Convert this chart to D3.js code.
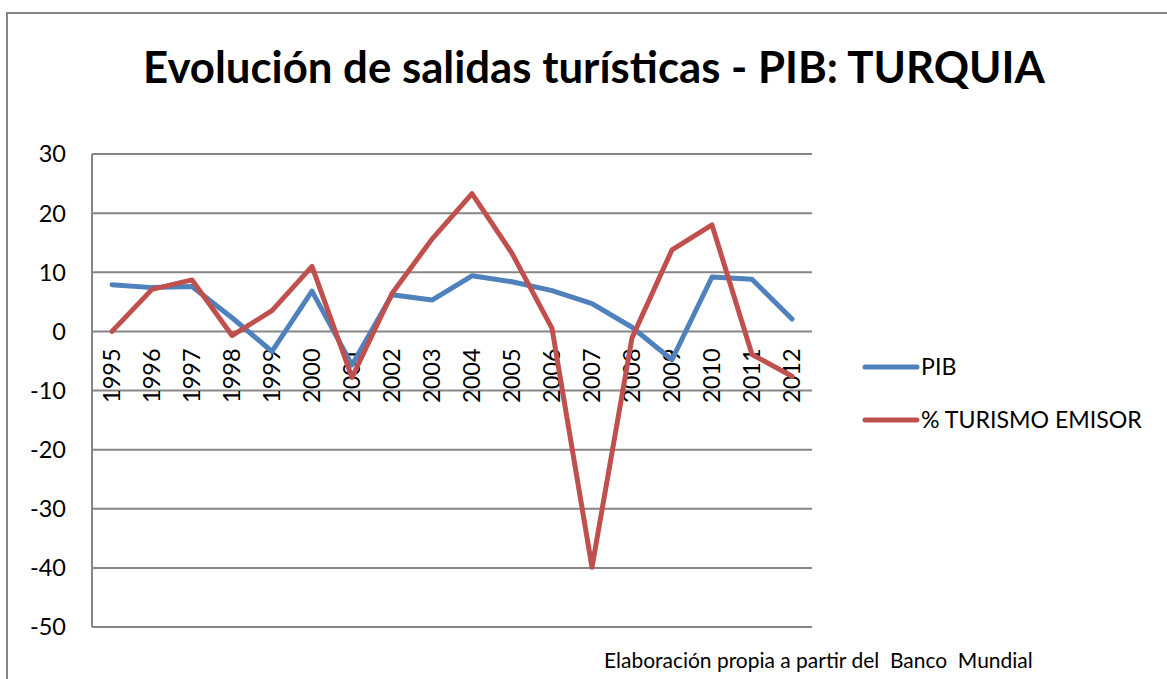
<!DOCTYPE html>
<html><head><meta charset="utf-8">
<script src="https://cdn.jsdelivr.net/npm/d3@7"></script>
<style>
html,body{margin:0;padding:0;background:#fff;}
svg{display:block;}
text{font-family:Lato,"Open Sans",sans-serif;fill:#000;}
</style></head>
<body><svg id="c" width="1167" height="679"></svg>
<script>
const titleText = "Evolución de salidas turísticas - PIB: TURQUIA";
const sourceText = "Elaboración propia a partir del  Banco  Mundial";
const years = ["1995","1996","1997","1998","1999","2000","2001","2002","2003","2004","2005","2006","2007","2008","2009","2010","2011","2012"];
const pib = [7.9, 7.4, 7.6, 2.3, -3.4, 6.8, -5.7, 6.2, 5.3, 9.4, 8.4, 6.9, 4.7, 0.7, -4.8, 9.2, 8.8, 2.1];
const turismo = [0, 7.1, 8.7, -0.7, 3.5, 11.0, -7.8, 6.4, 15.6, 23.3, 13.2, 0.5, -39.9, -1.1, 13.8, 18.0, -3.9, -7.6];
const yTicks = [30, 20, 10, 0, -10, -20, -30, -40, -50];
const seriesNames = ["PIB", "% TURISMO EMISOR"];
const seriesColors = ["#4F81BD", "#C0504D"];

const svg = d3.select("#c");
const grid = "#868686";

function fitWidth(sel, base, target) {
  const w = sel.node().getComputedTextLength();
  sel.attr("font-size", base * target / w);
}

// outer frame (top and left edges)
svg.append("path").attr("d", "M7,679V13H1167").attr("fill", "none")
  .attr("stroke", grid).attr("stroke-width", 2);

// title
const title = svg.append("text").attr("x", 594).attr("y", 83)
  .attr("text-anchor", "middle").attr("font-weight", "bold")
  .attr("font-size", 36).text(titleText);
fitWidth(title, 36, 902);

const x = d3.scaleBand().domain(years).range([92, 812]);
const y = d3.scaleLinear().domain([-50, 30]).range([627, 154]);
const cx = d => x(d) + x.bandwidth() / 2;

// gridlines
svg.append("g").selectAll("line").data(yTicks).join("line")
  .attr("x1", 92).attr("x2", 812)
  .attr("y1", d => y(d)).attr("y2", d => y(d))
  .attr("stroke", grid).attr("stroke-width", 2);
// y axis line
svg.append("line").attr("x1", 92).attr("x2", 92).attr("y1", y(30)).attr("y2", y(-50))
  .attr("stroke", grid).attr("stroke-width", 2);

// y labels
svg.append("g").selectAll("text").data(yTicks).join("text")
  .attr("x", 66).attr("y", d => y(d)).attr("dy", "0.36em")
  .attr("text-anchor", "end").attr("font-size", 23.5).text(d => d);

// category labels
svg.append("g").selectAll("text").data(years).join("text")
  .attr("transform", d => `translate(${cx(d)},${y(0) + 17}) rotate(-90)`)
  .attr("dy", "0.36em").attr("text-anchor", "end").attr("font-size", 23.5)
  .text(d => d);

// lines
const line = d3.line().x((d, i) => cx(years[i])).y(d => y(d));
[pib, turismo].forEach((s, k) => {
  svg.append("path").datum(s).attr("d", line).attr("fill", "none")
    .attr("stroke", seriesColors[k]).attr("stroke-width", 5)
    .attr("stroke-linejoin", "round").attr("stroke-linecap", "round");
});

// legend
const ly = [367, 420];
const legendSize = [];
seriesNames.forEach((n, k) => {
  svg.append("line").attr("x1", 865).attr("x2", 917).attr("y1", ly[k]).attr("y2", ly[k])
    .attr("stroke", seriesColors[k]).attr("stroke-width", 5).attr("stroke-linecap", "round");
  legendSize.push(svg.append("text").attr("class", "leg").attr("x", 921).attr("y", ly[k]).attr("dy", "0.36em")
    .attr("font-size", 22).text(n));
});
const lw = legendSize[1].node().getComputedTextLength();
svg.selectAll("text.leg").attr("font-size", 22 * 221 / lw);

// source
const src = svg.append("text").attr("x", 604).attr("y", 668).attr("font-size", 19)
  .style("white-space", "pre").attr("xml:space", "preserve").text(sourceText);
fitWidth(src, 19, 429);
</script></body></html>
